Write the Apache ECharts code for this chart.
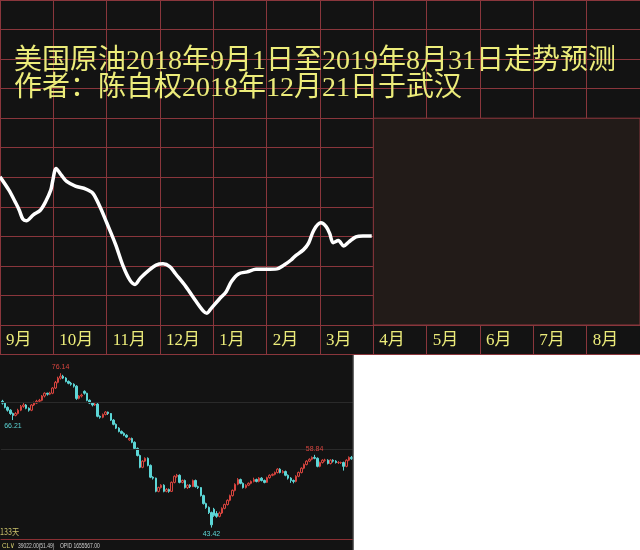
<!DOCTYPE html>
<html>
<head>
<meta charset="utf-8">
<script src="https://cdn.jsdelivr.net/npm/echarts@6/dist/echarts.min.js"></script>
<style>html,body{margin:0;padding:0;background:#fff;}#c{width:640px;height:550px;}</style>
</head>
<body>
<div id="c"></div>
<script>
const titleLines = ['美国原油2018年9月1日至2019年8月31日走势预测', '作者：陈自权2018年12月21日于武汉'];
const monthLabels = ['9月','10月','11月','12月','1月','2月','3月','4月','5月','6月','7月','8月'];
const trendDates = ['2018-09-01','2018-09-06','2018-09-10','2018-09-12','2018-09-14','2018-09-16','2018-09-20','2018-09-24','2018-09-27','2018-09-30',
  '2018-10-01','2018-10-03','2018-10-06','2018-10-09','2018-10-14','2018-10-20','2018-10-24','2018-10-28',
  '2018-11-01','2018-11-06','2018-11-10','2018-11-14','2018-11-17','2018-11-20','2018-11-25','2018-11-29',
  '2018-12-03','2018-12-07','2018-12-10','2018-12-16','2018-12-22','2018-12-26','2018-12-28','2018-12-30',
  '2019-01-04','2019-01-08','2019-01-11','2019-01-15','2019-01-20','2019-01-25','2019-01-31',
  '2019-02-06','2019-02-10','2019-02-14','2019-02-16','2019-02-21','2019-02-24','2019-02-27',
  '2019-03-03','2019-03-06','2019-03-08','2019-03-10','2019-03-13','2019-03-16','2019-03-19','2019-03-23','2019-03-27','2019-04-01'];
const trendValues = [75.1,72.0,68.9,67.2,65.1,64.7,66.1,67.2,69.2,72.0,
  74.0,77.1,75.5,74.0,72.9,72.2,71.2,68.0,
  64.1,59.0,54.2,50.7,49.6,51.1,53.0,54.2,
  54.5,53.8,52.2,49.1,45.5,43.3,42.8,43.7,
  46.1,47.9,50.3,52.1,52.6,53.2,53.2,
  53.3,54.2,55.4,56.2,57.8,59.4,62.5,
  64.2,63.3,61.7,59.5,60.0,58.7,59.7,60.9,61.1,61.1];
// daily candles: [open, close, low, high]
const candleOHLC = [
 [70.2,69.8,69.5,70.5],[69.8,68.9,68.7,70.0],[68.9,68.3,68.0,69.1],[68.3,67.6,67.3,68.5],[67.6,67.2,66.21,67.8],
 [67.2,67.6,67.0,67.9],[67.6,68.3,67.4,68.6],[68.3,69.1,68.1,69.4],[69.1,69.4,68.8,69.8],[69.4,68.7,68.5,69.6],
 [68.7,68.3,68.0,68.9],[68.3,69.4,68.1,69.6],[69.4,69.8,69.2,70.1],[69.8,70.2,69.6,70.5],[70.2,70.4,69.9,70.7],
 [70.4,71.3,70.2,71.5],[71.3,71.9,71.0,72.1],[71.9,71.7,71.4,72.0],[71.7,71.9,71.5,72.2],[71.9,73.0,71.7,73.2],
 [73.0,74.2,72.8,74.5],[74.2,75.1,74.0,75.4],[75.1,75.5,74.8,76.14],[75.5,75.1,74.9,75.8],[75.1,74.4,74.2,75.3],
 [74.4,74.0,73.8,74.6],[74.0,73.8,73.5,74.3],[73.8,73.4,73.1,74.0],[73.4,70.8,70.5,73.6],[70.8,71.3,70.6,71.5],
 [71.3,71.5,71.0,71.8],[72.3,71.9,71.6,72.5],[71.9,70.4,70.2,72.0],[70.4,69.8,69.6,70.6],[69.8,69.4,69.1,70.0],
 [69.4,69.6,69.2,69.9],[69.6,67.0,66.8,69.8],[67.0,66.8,66.5,67.2],[66.8,67.4,66.6,67.6],[67.4,67.9,67.2,68.1],
 [67.9,67.6,67.3,68.0],[67.6,66.2,66.0,67.7],[66.2,65.3,65.1,66.4],[65.3,64.5,64.3,65.5],[64.5,63.8,63.6,64.7],
 [63.8,63.4,63.2,64.0],[63.4,63.0,62.8,63.6],[63.0,62.6,62.4,63.2],[62.0,62.3,61.8,62.5],[62.3,61.5,61.3,62.5],
 [61.5,60.2,60.0,61.7],[60.2,58.7,58.5,60.4],[58.7,56.2,56.0,58.9],[56.2,57.5,56.0,57.7],[57.5,58.1,57.3,58.3],
 [58.1,56.6,56.4,58.3],[56.6,54.1,53.9,56.8],[54.1,53.9,53.6,54.3],[53.9,51.1,50.9,54.0],[51.1,51.9,50.9,52.1],
 [51.9,52.4,51.7,52.6],[52.4,51.1,50.9,52.6],[51.1,51.5,50.9,51.8],[51.5,51.1,50.8,51.7],[51.1,53.0,51.0,53.2],
 [53.0,54.3,52.8,54.5],[54.3,54.5,54.0,54.8],[54.5,53.0,52.8,54.7],[53.0,53.4,52.8,53.6],[53.4,51.9,51.7,53.6],
 [51.9,52.4,51.6,52.6],[52.4,52.1,51.8,52.6],[52.1,53.4,52.0,53.6],[53.4,52.1,51.9,53.6],[52.1,51.9,51.6,52.3],
 [51.9,50.2,50.0,52.0],[50.2,48.5,48.3,50.4],[48.5,47.7,47.4,48.7],[47.7,46.6,46.3,47.9],[46.6,44.0,43.42,46.8],
 [47.3,46.0,45.7,47.6],[46.4,45.8,45.5,46.9],[45.8,46.5,45.6,46.8],[46.5,47.5,46.3,47.7],[47.5,48.3,47.3,48.5],
 [48.3,49.2,48.1,49.4],[49.2,50.2,49.0,50.4],[50.2,51.3,50.0,51.5],[51.3,52.6,51.1,52.8],[52.6,53.6,52.4,53.9],
 [53.6,52.8,52.6,53.8],[52.8,51.9,51.7,53.0],[51.9,52.4,51.7,52.6],[52.4,52.8,52.2,53.0],[52.8,53.2,52.6,53.4],
 [53.2,53.6,53.0,54.0],[53.6,53.2,53.0,53.8],[53.2,53.9,53.0,54.1],[53.9,53.4,53.2,54.1],[53.4,53.0,52.8,53.6],
 [53.0,54.0,52.9,54.2],[54.0,54.5,53.8,54.7],[54.5,54.7,54.3,54.9],[54.7,55.1,54.5,55.3],[55.1,55.8,54.9,56.0],
 [55.8,55.1,54.9,56.0],[55.1,55.3,54.9,55.6],[55.3,54.5,54.3,55.5],[54.5,53.9,53.6,54.7],[53.9,53.4,52.9,54.1],
 [53.4,53.2,52.8,53.6],[53.2,54.3,53.0,54.5],[54.3,55.1,54.1,55.3],[55.1,56.0,54.9,56.2],[56.0,56.8,55.8,57.0],
 [56.8,57.5,56.6,57.7],[57.5,57.9,57.3,58.1],[57.9,58.3,57.7,58.5],[58.3,58.1,57.9,58.84],[58.1,56.4,56.2,58.3],
 [56.4,57.2,56.2,57.4],[57.2,57.7,57.0,57.9],[57.7,57.7,57.4,58.0],[57.7,57.0,56.8,57.9],[57.0,57.7,56.8,57.9],
 [57.7,57.5,57.2,57.9],[57.5,57.2,57.0,57.7],[57.2,57.2,56.9,57.5],[57.2,57.2,56.9,57.4],[57.2,56.4,55.5,57.4],
 [56.4,57.7,56.2,57.9],[57.7,58.3,57.5,58.5],[58.3,58.0,57.8,58.6]
];
// extreme labels: [candle index, price, side]
const extremeMarks = [[22, 76.14, 'top'], [4, 66.21, 'bottom'], [79, 43.42, 'bottom'], [118, 58.84, 'top']];
const candleGuides = [60, 70];
const footerTexts = ['133天', 'CL∨', '39022.00(51.49)', 'OPID 1655567.00'];

const RED = '#8a363c';
const YEL = '#ecec7a';
const UP = '#d8453f';
const DOWN = '#5cd6d6';
const FONT = "'Liberation Serif', 'Noto Sans CJK SC'";

const chart = echarts.init(document.getElementById('c'));
const hiddenAxis = {axisLine:{show:false}, axisTick:{show:false}, axisLabel:{show:false}};
const option = {
  animation: false,
  backgroundColor: '#131313',
  title: {
    text: titleLines.join('\n'), left: 14, top: 48, padding: 0,
    textStyle: {color: YEL, fontSize: 28, lineHeight: 27, fontWeight: 'normal', fontFamily: FONT}
  },
  grid: [
    {left: 0, top: 0, width: 640, height: 325},
    {left: 0, top: 325, width: 640, height: 29.5},
    {left: 1, top: 355, width: 352, height: 184}
  ],
  xAxis: [
    Object.assign({gridIndex: 0, type: 'value', min: 0, max: 12, interval: 1, position: 'bottom',
      splitLine: {show: true, lineStyle: {color: RED, width: 1}}}, hiddenAxis),
    {gridIndex: 0, type: 'time', min: '2018-09-01', max: '2019-09-01', position: 'top', show: false},
    {gridIndex: 1, type: 'value', min: 0, max: 12, interval: 1, position: 'bottom',
      axisLine: {show: false}, axisTick: {show: false},
      splitLine: {show: true, lineStyle: {color: RED, width: 1}},
      axisLabel: {inside: true, margin: 14, verticalAlign: 'middle', align: 'left', padding: [0, 0, 0, 6],
        color: YEL, fontSize: 17, fontFamily: FONT, showMaxLabel: false,
        formatter: v => monthLabels[v] || ''}},
    {gridIndex: 2, type: 'category', data: candleOHLC.map((_, i) => String(i)), boundaryGap: true,
      axisLine: {show: true, lineStyle: {color: '#8a2f33', width: 1}}, axisTick: {show: false}, axisLabel: {show: false},
      splitLine: {show: false}}
  ],
  yAxis: [
    Object.assign({gridIndex: 0, type: 'value', min: 0, max: 11, interval: 1, position: 'left',
      splitLine: {show: true, lineStyle: {color: RED, width: 1}}}, hiddenAxis),
    {gridIndex: 0, type: 'value', min: 40, max: 117, position: 'right', show: false, splitLine: {show: false}},
    Object.assign({gridIndex: 1, type: 'value', min: 0, max: 1, interval: 1,
      splitLine: {show: true, lineStyle: {color: RED, width: 1}}}, hiddenAxis),
    {gridIndex: 2, type: 'value', min: 41, max: 80, show: false, splitLine: {show: false}}
  ],
  series: [
    {
      type: 'scatter', xAxisIndex: 0, yAxisIndex: 0, data: [[7, 0]], symbolSize: 0, silent: true,
      markArea: {silent: true,
        itemStyle: {color: '#221b18', borderColor: RED, borderWidth: 1},
        data: [[{coord: [7, 0]}, {coord: [12, 7]}]]}
    },
    {
      type: 'line', xAxisIndex: 1, yAxisIndex: 1, z: 5,
      data: trendDates.map((d, i) => [d, trendValues[i]]),
      smooth: 0.3, symbol: 'none',
      lineStyle: {color: '#ffffff', width: 3.5}
    },
    {
      type: 'candlestick', xAxisIndex: 3, yAxisIndex: 3, data: candleOHLC, barWidth: 2,
      itemStyle: {color: 'transparent', color0: DOWN, borderColor: UP, borderColor0: DOWN, borderWidth: 1},
      markLine: {silent: true, symbol: ['none', 'none'], label: {show: false},
        lineStyle: {color: '#2a2a2a', type: 'solid', width: 1},
        data: candleGuides.map(v => ({yAxis: v}))},
      markPoint: {silent: true, symbol: 'circle', symbolSize: 1, itemStyle: {color: 'transparent'},
        data: extremeMarks.map(m => ({coord: [m[0], m[1]], value: m[1],
          label: {show: true, position: m[2], distance: 2, formatter: String(m[1].toFixed(2)),
            color: m[2] === 'top' ? UP : DOWN, fontSize: 7, fontFamily: "'Liberation Sans Narrow','Liberation Sans'"}}))}
    }
  ],
  graphic: [
    {type: 'rect', z: 100, shape: {x: 353.5, y: 355, width: 290, height: 200}, style: {fill: '#ffffff'}},
    {type: 'line', z: 100, shape: {x1: 353, y1: 355, x2: 353, y2: 550}, style: {stroke: '#4a4a4a', lineWidth: 1}},
    {type: 'text', z: 100, x: 0, y: 527, scaleX: 0.8, style: {text: footerTexts[0], fill: '#c9c06a', fontSize: 9, fontFamily: "'Noto Sans CJK SC'"}},
    {type: 'text', z: 100, x: 2, y: 542, scaleX: 0.8, style: {text: footerTexts[1], fill: '#d8d070', fontSize: 8, fontFamily: "'Liberation Sans'"}},
    {type: 'text', z: 100, x: 18, y: 542, scaleX: 0.62, style: {text: footerTexts[2], fill: '#cfcfcf', fontSize: 8, fontFamily: "'Liberation Sans'"}},
    {type: 'text', z: 100, x: 60, y: 542, scaleX: 0.62, style: {text: footerTexts[3], fill: '#cfcfcf', fontSize: 8, fontFamily: "'Liberation Sans'"}}
  ]
};
chart.setOption(option);
</script>
</body>
</html>
